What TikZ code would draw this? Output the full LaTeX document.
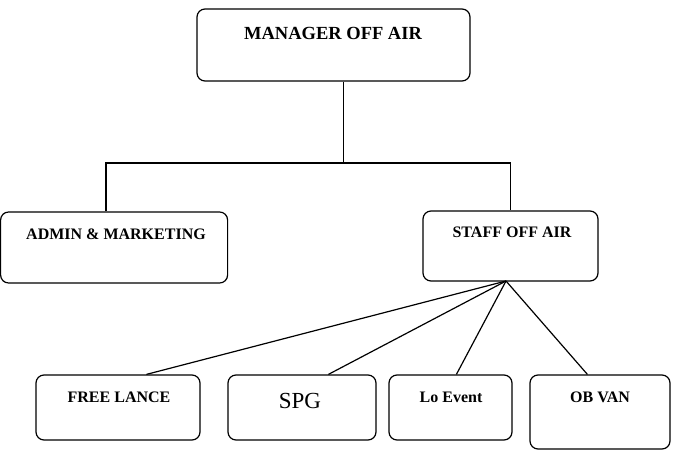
\documentclass[tikz,border=0pt]{standalone}
\usepackage{fontspec}
\setmainfont{Liberation Serif}
\usetikzlibrary{calc}
\begin{document}
\begin{tikzpicture}[x=1pt,y=-1pt,
  box/.style={draw,line width=1.2pt,rounded corners=8pt,inner sep=0pt},
  lbl/.style={anchor=base,inner sep=0pt,font=\bfseries\fontsize{16}{19}\selectfont},
  conn/.style={line width=1.2pt}]
\useasboundingbox (0,0) rectangle (674,454);
% boxes
\node[box,minimum width=273pt,minimum height=72pt] (mgr) at (333.5,45) {};
\node[box,minimum width=227pt,minimum height=71pt] (admin) at (114.1,247.5) {};
\node[box,minimum width=175pt,minimum height=70pt] (staff) at (510.5,246) {};
\node[box,minimum width=164pt,minimum height=65pt] (fl) at (118,407.5) {};
\node[box,minimum width=148pt,minimum height=65pt] (spg) at (302,407.5) {};
\node[box,minimum width=123pt,minimum height=65pt] (lo) at (450.5,407.5) {};
\node[box,minimum width=140pt,minimum height=74pt] (ob) at (600,412) {};
% texts
\node[lbl,font=\bfseries\fontsize{18.5}{22}\selectfont] (tmgr) at (333,40) {MANAGER OFF AIR};
\node[lbl] (tadmin) at (116,240) {ADMIN \& MARKETING};
\node[lbl] (tstaff) at (512,237) {STAFF OFF AIR};
\node[lbl] (tfl) at (119,402) {FREE LANCE};
\node[lbl,font=\fontsize{23}{27}\selectfont] (tspg) at (300,408) {SPG};
\node[lbl] (tlo) at (451,402) {Lo Event};
\node[lbl] (tob) at (600,402) {OB VAN};
% connectors
\coordinate (j) at (343.5,163);
\coordinate (aj) at (106,163);
\coordinate (sb) at (506,281);
\draw[conn] (mgr.south -| j) -- (j);
\draw[conn] (aj |- admin.north) -- (aj) -- (staff.north |- aj) -- (staff.north);
\draw[conn] (sb) -- ($(fl.north west)+(111,0)$);
\draw[conn] (sb) -- ($(spg.north west)+(101,0)$);
\draw[conn] (sb) -- ($(lo.north west)+(68,0)$);
\draw[conn] (sb) -- ($(ob.north west)+(58,0)$);
\end{tikzpicture}
\end{document}
